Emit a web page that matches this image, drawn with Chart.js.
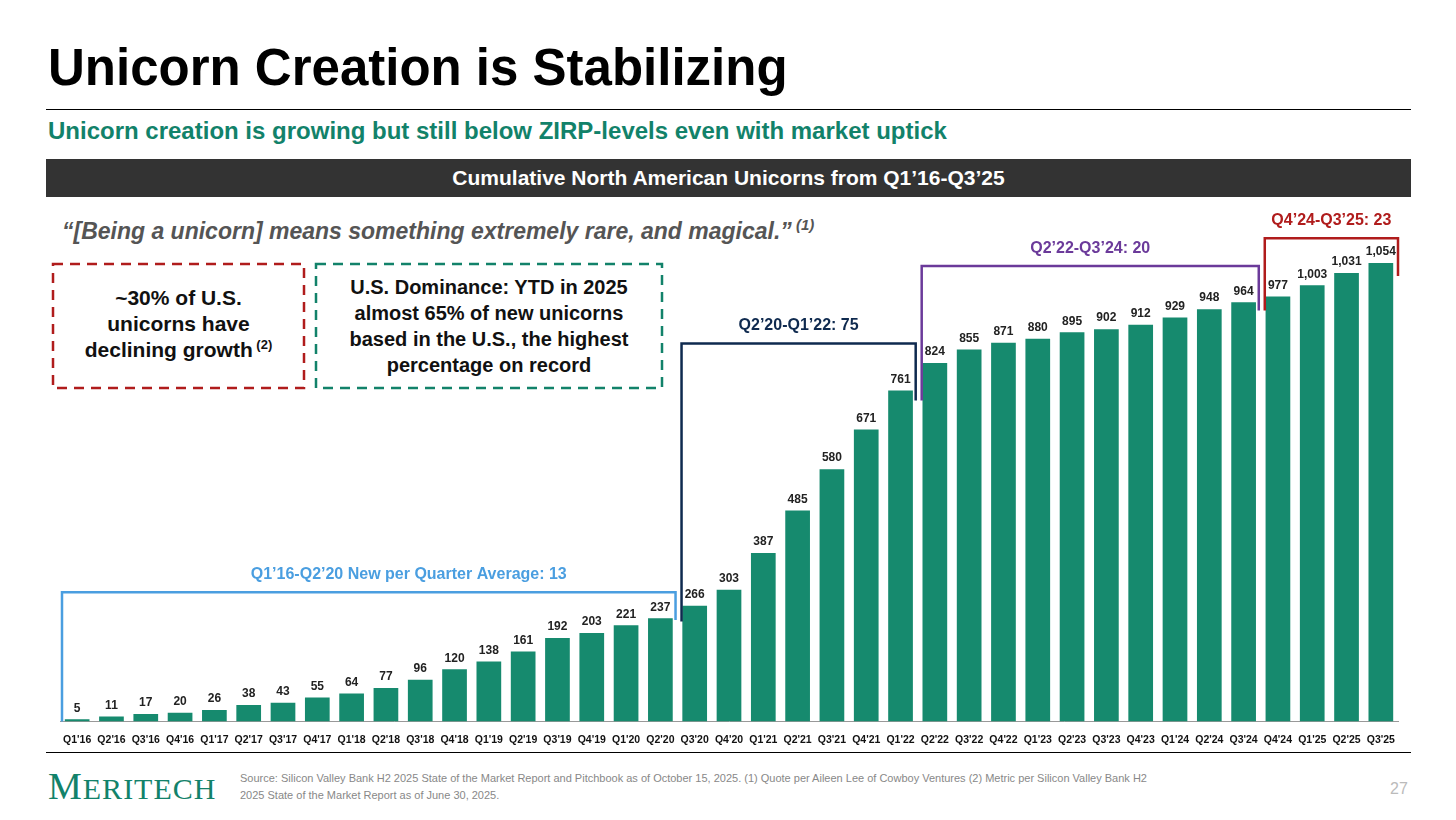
<!DOCTYPE html>
<html><head><meta charset="utf-8">
<script src="https://cdn.jsdelivr.net/npm/chart.js@4"></script>
<style>
body{margin:0;width:1456px;height:820px;background:#fff;font-family:Arial,"Liberation Sans",sans-serif;position:relative;overflow:hidden}
.abs{position:absolute}
#title{left:48px;top:38px;font-size:51px;font-weight:bold;color:#000}
#sub{left:48px;top:117px;font-size:24px;font-weight:bold;color:#12826a}
#band{left:46px;top:159px;width:1365px;height:38px;background:#333;color:#fff;font-size:21px;font-weight:bold;text-align:center;line-height:38px}
.hr{left:46px;width:1365px;height:1px;background:#000}
#quote{left:62px;top:216px;font-size:23px;font-style:italic;font-weight:bold;color:#555}
.box{font-size:21px;font-weight:bold;text-align:center;color:#111;line-height:26px;display:flex;align-items:center;justify-content:center;box-sizing:border-box}
#src{left:240px;top:770px;font-size:11px;color:#888;line-height:17px;width:1040px}
#logo{left:48px;top:764px;font-family:"Liberation Serif",serif;font-size:38px;color:#12826a;letter-spacing:1px}
#pg{left:1390px;top:780px;color:#bbb;font-size:16px}
</style></head><body>
<div id="title" class="abs">Unicorn Creation is Stabilizing</div>
<div class="abs hr" style="top:109px"></div>
<div id="sub" class="abs">Unicorn creation is growing but still below ZIRP-levels even with market uptick</div>
<div id="band" class="abs">Cumulative North American Unicorns from Q1’16-Q3’25</div>
<div id="quote" class="abs">“[Being a unicorn] means something extremely rare, and magical.”<sup style="font-size:15px"> (1)</sup></div>
<svg class="abs" style="left:50px;top:261px" width="620" height="130">
<rect x="3" y="3" width="251" height="124" fill="none" stroke="#b01c1c" stroke-width="2.5" stroke-dasharray="10,7"/>
<rect x="266" y="3" width="346" height="124" fill="none" stroke="#12826a" stroke-width="2.5" stroke-dasharray="10,7"/>
</svg>
<div class="abs box" style="left:53px;top:263px;width:251px;height:125px"><div>~30% of U.S.<br>unicorns have<br>declining growth<span style="font-size:13px;position:relative;top:-8px"> (2)</span></div></div>
<div class="abs box" style="left:316px;top:263px;width:346px;height:125px;font-size:20px"><div>U.S. Dominance: YTD in 2025<br>almost 65% of new unicorns<br>based in the U.S., the highest<br>percentage on record</div></div>
<div style="position:absolute;left:40px;top:190px;width:1376px;height:560px"><canvas id="c"></canvas></div>
<div class="abs hr" style="top:752px"></div>
<div id="logo" class="abs">M<span style="font-size:30px">ERITECH</span></div>
<div id="src" class="abs">Source: Silicon Valley Bank H2 2025 State of the Market Report and Pitchbook as of October 15, 2025. (1) Quote per Aileen Lee of Cowboy Ventures (2) Metric per Silicon Valley Bank H2<br>2025 State of the Market Report as of June 30, 2025.</div>
<div id="pg" class="abs">27</div>
<script>
const quarters=["Q1'16","Q2'16","Q3'16","Q4'16","Q1'17","Q2'17","Q3'17","Q4'17","Q1'18","Q2'18","Q3'18","Q4'18","Q1'19","Q2'19","Q3'19","Q4'19","Q1'20","Q2'20","Q3'20","Q4'20","Q1'21","Q2'21","Q3'21","Q4'21","Q1'22","Q2'22","Q3'22","Q4'22","Q1'23","Q2'23","Q3'23","Q4'23","Q1'24","Q2'24","Q3'24","Q4'24","Q1'25","Q2'25","Q3'25"];
const unicorns=[5,11,17,20,26,38,43,55,64,77,96,120,138,161,192,203,221,237,266,303,387,485,580,671,761,824,855,871,880,895,902,912,929,948,964,977,1003,1031,1054];
// brackets: [startIndex, endIndex, leftFoot, top, rightFoot, color, label]
const brackets=[
 [0,17,0,297,233,"#4a9ee0","Q1’16-Q2’20 New per Quarter Average: 13"],
 [17,24,230,869,738,"#0f2a4f","Q2’20-Q1’22: 75"],
 [24,34,738,1047,945,"#6b3a9a","Q2’22-Q3’24: 20"],
 [34,38,945,1111,1024,"#b01c1c","Q4’24-Q3’25: 23"]
];
const fmt=v=>v.toLocaleString('en-US');
const plug={id:'p',afterDatasetsDraw(ch){
 const c=ch.ctx,x=ch.scales.x,y=ch.scales.y,m=ch.getDatasetMeta(0);
 c.save();c.textAlign='center';c.textBaseline='bottom';c.font='bold 12px Arial';c.fillStyle='#222';
 m.data.forEach((b,i)=>c.fillText(fmt(unicorns[i]),b.x,b.y-5));
 const half=(x.getPixelForValue(1)-x.getPixelForValue(0))/2;
 brackets.forEach((br,k)=>{
  const x0=k==0?x.left+2:x.getPixelForValue(br[0])+half+4;
  const x1=k==3?x.right:x.getPixelForValue(br[1])+half-2;
  c.strokeStyle=br[5];c.lineWidth=2.5;c.beginPath();
  c.moveTo(x0,y.getPixelForValue(br[2]));c.lineTo(x0,y.getPixelForValue(br[3]));
  c.lineTo(x1,y.getPixelForValue(br[3]));c.lineTo(x1,y.getPixelForValue(br[4]));c.stroke();
  c.fillStyle=br[5];c.font='bold 16px Arial';c.textBaseline='bottom';
  c.fillText(br[6],(x0+x1)/2+(k==0?40:0),y.getPixelForValue(br[3])-10);
 });
 c.restore();}};
new Chart(document.getElementById('c'),{type:'bar',
 data:{labels:quarters,datasets:[{data:unicorns,backgroundColor:'#168a6e',barPercentage:0.72,categoryPercentage:1}]},
 options:{responsive:true,maintainAspectRatio:false,animation:false,
  layout:{padding:{left:20,right:18,top:0,bottom:0}},
  plugins:{legend:{display:false},tooltip:{enabled:false}},
  scales:{y:{display:false,min:0,max:1222},
   x:{grid:{display:false},border:{color:'#999'},ticks:{color:'#111',font:{size:10.5,weight:'bold',family:'Arial'},maxRotation:0,autoSkip:false,padding:4}}}},
 plugins:[plug]});
</script></body></html>
